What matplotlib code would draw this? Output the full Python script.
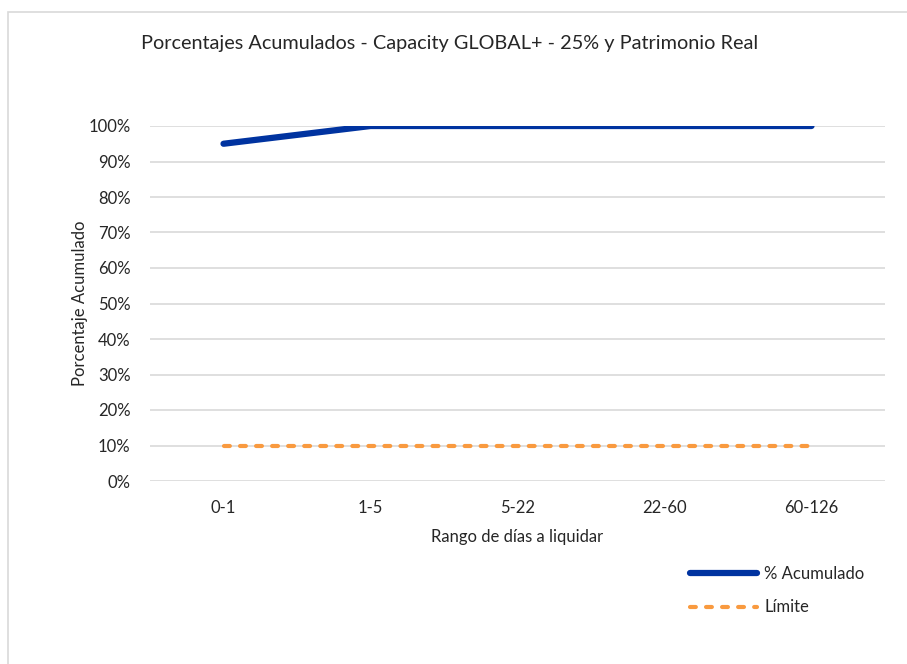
import matplotlib
matplotlib.use("Agg")
import matplotlib.pyplot as plt
from matplotlib.ticker import PercentFormatter, MultipleLocator

categories = ["0-1", "1-5", "5-22", "22-60", "60-126"]
acumulado = [0.95, 1.0, 1.0, 1.0, 1.0]
limite = [0.10, 0.10, 0.10, 0.10, 0.10]

plt.rcParams['font.family'] = ['Lato', 'DejaVu Sans']

fig = plt.figure(figsize=(9.07, 6.64), dpi=100)
# outer border
fig.patches.append(plt.Rectangle((8/907, -0.1), 1.2, 1 - 12/664 + 0.1, transform=fig.transFigure,
                                 fill=False, edgecolor='#d9d9d9', linewidth=1.2))
ax = fig.add_axes([150/907, 1 - 481/664, 735/907, 355/664])

x = list(range(len(categories)))
ax.plot(x, acumulado, color='#0033A0', linewidth=4.5, solid_capstyle='round', label='% Acumulado', zorder=3)
ax.plot(x, limite, color='#F99A3F', linewidth=3.0, linestyle=(0, (1.4, 2.45)), dash_capstyle='round',
        label='Límite', zorder=3)

ax.set_xlim(-0.5, len(categories) - 0.5)
ax.set_ylim(0, 1.0)
ax.yaxis.set_major_locator(MultipleLocator(0.1))
ax.yaxis.set_major_formatter(PercentFormatter(1.0, decimals=0))
ax.set_xticks(x)
ax.set_xticklabels(categories)
ax.grid(axis='y', color='#d9d9d9', linewidth=1.2)
ax.set_axisbelow(True)
for s in ax.spines.values():
    s.set_visible(False)
ax.tick_params(length=0, labelsize=12, colors='#262626', pad=14)
ax.tick_params(axis='x', pad=14)

ax.set_xlabel('Rango de días a liquidar', fontsize=12, color='#262626', labelpad=9)
ax.set_ylabel('Porcentaje Acumulado', fontsize=12, color='#262626', labelpad=0.5)

fig.text(450/907, 1 - 44/664, 'Porcentajes Acumulados - Capacity GLOBAL+ - 25% y Patrimonio Real',
         ha='center', va='center', fontsize=14.3, color='#262626')

leg = fig.legend(loc='upper left', bbox_to_anchor=(675/907, 1 - 551/664), frameon=False,
                 fontsize=12, handlelength=4.0, labelspacing=1.05, handletextpad=0.45,
                 labelcolor='#262626')

fig.savefig('out.png', dpi=100)
